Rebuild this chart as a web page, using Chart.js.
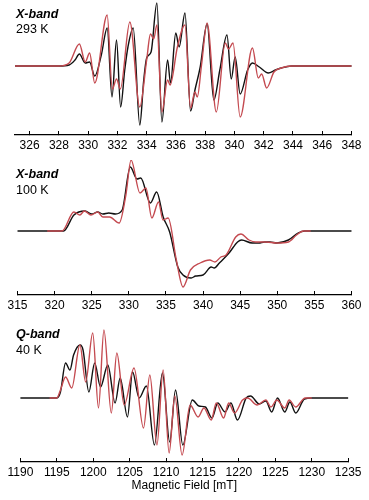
<!DOCTYPE html>
<html>
<head>
<meta charset="utf-8">
<script src="https://cdn.jsdelivr.net/npm/chart.js@4.4.0/dist/chart.umd.min.js"></script>
<style>
  body { margin: 0; background: #fff; }
  #wrap { position: relative; width: 369px; height: 500px; font-family: "Liberation Sans", Arial, Helvetica, sans-serif; }
  canvas { position: absolute; left: 0; }
  .lbl { position: absolute; left: 16px; font-size: 12.5px; line-height: 15px; color: #000; white-space: nowrap; }
  .lbl b { font-style: italic; }
</style>
</head>
<body>
<div id="wrap">
  <canvas id="c1" width="369" height="160" style="top:0px"></canvas>
  <canvas id="c2" width="369" height="160" style="top:160px"></canvas>
  <canvas id="c3" width="369" height="173" style="top:320px"></canvas>
  <div class="lbl" style="top:7px"><b>X-band</b></div>
  <div class="lbl" style="top:22px">293 K</div>
  <div class="lbl" style="top:167px"><b>X-band</b></div>
  <div class="lbl" style="top:183px">100 K</div>
  <div class="lbl" style="top:327px"><b>Q-band</b></div>
  <div class="lbl" style="top:343px">40 K</div>
</div>
<script>
// X-band, 293 K : experiment (black) and simulation (red)
const x293FieldExp = [325, 328, 328.7, 329.1, 329.4, 329.8, 330.1, 330.45, 330.9, 331.3, 331.63, 331.94, 332.22, 332.5, 332.72, 333.08, 333.53, 333.8, 334.0, 334.3, 334.7, 335.04, 335.43, 335.63, 335.99, 336.22, 336.62, 337.0, 337.3, 337.66, 338.13, 338.59, 339.0, 339.49, 339.78, 340.05, 340.39, 340.9, 341.23, 341.7, 342.31, 342.8, 343.2, 343.9, 348];
const x293Exp = [0, 0, 1, 6, 12, 3, 4, -10, 11, 38, -31, 26, -41, -4, 19, 38, -59, -14, 8, 14, 63, -56, 6, -17, 33, 19, 53, -45, -24, -1, 42, -34, -4, 31, -13, 9, -28, -4, 3, -1, -7, -4, -2, 0, 0];
const x293FieldSim = [325, 328, 328.7, 329.4, 329.8, 330.1, 330.45, 331.3, 331.65, 331.94, 332.2, 332.85, 333.53, 334.0, 334.26, 334.48, 334.7, 335.04, 335.43, 335.6, 336.1, 336.62, 337.0, 337.3, 337.46, 337.75, 338.13, 338.76, 339.37, 339.6, 339.9, 340.39, 341.23, 341.63, 341.86, 342.2, 342.7, 343.2, 343.9, 348];
const x293Sim = [0, 0, 3, 22, 4, 13, -17, 51, -23, -13, -23, 44, -41, 6, 32, 27, 41, -46, -14, -19, 19, 41, -42, -26, -31, 1, 43, -46, 23, 17, 23, -51, 18, -12, -8, -22, -6, -2, 0, 0];
const x293Ticks = [326, 328, 330, 332, 334, 336, 338, 340, 342, 344, 346, 348];

// X-band, 100 K
const x100FieldExp = [315, 321.2, 322.6, 324.1, 325.0, 325.8, 326.5, 327.3, 328.2, 329.1, 330.2, 331.1, 331.6, 332.9, 333.75, 334.63, 335.5, 336.6, 337.3, 338.4, 339.0, 340.0, 341.1, 341.5, 342.2, 343.5, 344.65, 345.2, 346.6, 347.5, 348.3, 349.05, 349.94, 351.5, 352.8, 353.7, 360];
const x100Exp = [0, 0, 16, 20, 17, 19, 17, 18, 17, 21, 64, 52, 53, 28, 39, 14, -1, -36, -44, -47, -45, -44, -36, -37, -32, -22, -11, -9, -12, -12, -11, -11, -12, -9, -2, 0, 0];
const x100FieldSim = [319, 321.0, 322.6, 323.4, 324.0, 324.9, 325.8, 326.5, 327.4, 328.7, 329.6, 330.3, 331.5, 332.3, 333.1, 334.0, 334.6, 335.3, 336.4, 337.3, 338.3, 339.6, 340.9, 341.6, 342.4, 343.1, 344.4, 345.1, 346.2, 347.1, 348.5, 349.9, 351.5, 352.6, 353.5, 354.5];
const x100Sim = [0, 0, 19, 16, 20, 16, 19, 14, 14, 8, 36, 71, 38, 43, 13, 29, 11, 13, -29, -56, -39, -32, -29, -31, -26, -24, -6, -3, -9, -11, -11, -12, -11, -4, 0, 0];
const x100Ticks = [315, 320, 325, 330, 335, 340, 345, 350, 355, 360];

// Q-band, 40 K
const q40FieldExp = [1190, 1195.0, 1195.5, 1196.2, 1196.8, 1197.3, 1198.2, 1198.6, 1199.4, 1200.2, 1201.0, 1202.0, 1203.0, 1203.7, 1204.7, 1205.4, 1206.3, 1207.3, 1208.4, 1209.5, 1210.5, 1211.3, 1212.3, 1213.6, 1214.5, 1215.4, 1216.3, 1217.1, 1218.1, 1218.9, 1219.8, 1221.0, 1221.6, 1222.8, 1223.7, 1224.5, 1225.3, 1226.3, 1227.0, 1227.8, 1229.0, 1230, 1235];
const q40Exp = [0, 0, 6, 35, 28, 43, 53, 48, 6, 35, 11, 33, -5, 20, -19, 26, 0, 12, -47, 25, -44, 8, -47, -2, -8, -9, -20, -5, -14, -5, -22, 0, 2, -6, -3, -14, 0, -14, -4, -15, -1, 0, 0];
const q40FieldSim = [1194, 1195.0, 1195.5, 1196.2, 1197.05, 1198.17, 1198.96, 1199.93, 1200.72, 1201.47, 1202.48, 1203.24, 1204.25, 1205.6, 1206.9, 1207.77, 1208.75, 1209.6, 1210.42, 1211.2, 1212.2, 1213.3, 1214.4, 1215.2, 1216.2, 1216.9, 1217.9, 1218.6, 1219.4, 1220.5, 1221.2, 1222.5, 1223.7, 1224.4, 1225.2, 1226.3, 1226.9, 1227.8, 1229.1, 1230];
const q40Sim = [0, 0, 8, 21, 10, 53, 16, 65, -10, 68, -15, 45, -7, 30, -30, 23, -47, 28, -55, 2, -57, -7, -19, -10, -22, -5, -20, -5, -15, -2, 0, -7, -2, -9, -2, -10, -2, -9, 0, 0];
const q40Ticks = [1190, 1195, 1200, 1205, 1210, 1215, 1220, 1225, 1230, 1235];

Chart.defaults.font.family = '"Liberation Sans", Arial, Helvetica, sans-serif';
Chart.defaults.color = '#000';

const pts = (xs, ys) => xs.map((x, i) => ({ x: x, y: ys[i] }));

function makeChart(id, o) {
  return new Chart(document.getElementById(id), {
    type: 'line',
    data: {
      datasets: [
        { label: 'sim', data: pts(o.simX, o.simY), borderColor: '#c44a50', borderWidth: 1.4 },
        { label: 'exp', data: pts(o.expX, o.expY), borderColor: '#111', borderWidth: 1.4 }
      ]
    },
    options: {
      responsive: false,
      animation: false,
      devicePixelRatio: 1,
      layout: { padding: { left: 15, right: 14, top: 0, bottom: 0 } },
      elements: { point: { radius: 0 }, line: { cubicInterpolationMode: 'monotone' } },
      datasets: { line: { clip: false } },
      plugins: { legend: { display: false }, tooltip: { enabled: false } },
      scales: {
        x: {
          type: 'linear',
          min: o.min,
          max: o.max,
          afterBuildTicks: (axis) => { axis.ticks = o.ticks.map((v) => ({ value: v })); },
          afterFit: (scale) => { scale.height = o.axisH; },
          grid: { drawOnChartArea: false, tickLength: -4, color: '#000', lineWidth: 1 },
          border: { color: '#000', width: 1.2 },
          ticks: { padding: 7.5, maxRotation: 0, autoSkip: false, font: { size: 12 }, callback: (v) => String(v) },
          title: { display: !!o.title, text: o.title, font: { size: 12 }, padding: 0 }
        },
        y: { display: false, min: o.ymin, max: o.ymax }
      }
    }
  });
}

makeChart('c1', { expX: x293FieldExp, expY: x293Exp, simX: x293FieldSim, simY: x293Sim, ticks: x293Ticks, min: 325, max: 348, ymin: -69, ymax: 66, axisH: 25 });
makeChart('c2', { expX: x100FieldExp, expY: x100Exp, simX: x100FieldSim, simY: x100Sim, ticks: x100Ticks, min: 315, max: 360, ymin: -64, ymax: 71, axisH: 25 });
makeChart('c3', { expX: q40FieldExp, expY: q40Exp, simX: q40FieldSim, simY: q40Sim, ticks: q40Ticks, min: 1190, max: 1235, ymin: -64, ymax: 78, axisH: 31, title: 'Magnetic Field [mT]' });
</script>
</body>
</html>
